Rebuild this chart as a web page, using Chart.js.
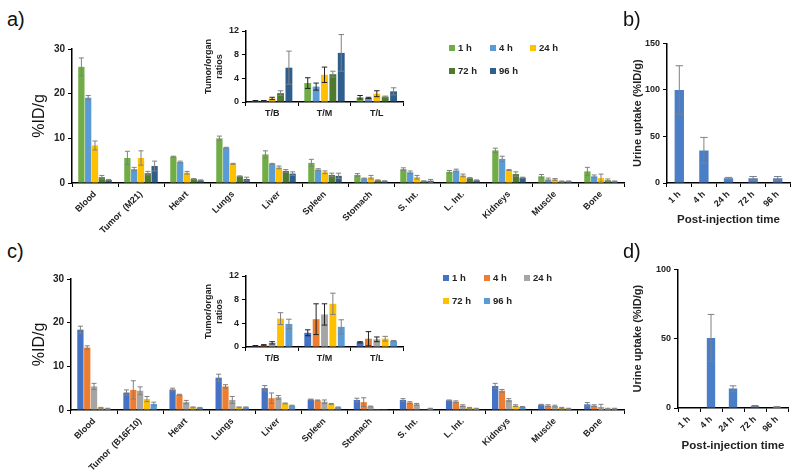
<!DOCTYPE html>
<html>
<head>
<meta charset="utf-8">
<script src="https://cdn.jsdelivr.net/npm/chart.js@4/dist/chart.umd.min.js"></script>
<style>
  body { margin:0; background:#fff; }
  #wrap { position:relative; width:800px; height:475px; overflow:hidden; font-family:"Liberation Sans", Arial, sans-serif; }
  canvas { position:absolute; }
  .lbl { position:absolute; font-size:20px; color:#111; }
  .leg { position:absolute; font-size:9.5px; font-weight:bold; color:#222; white-space:nowrap; line-height:10px; }
  .leg i { display:inline-block; width:6px; height:6px; margin-right:3px; vertical-align:0px; }
</style>
</head>
<body>
<div id="wrap">
  <canvas id="mainA" width="630" height="200" style="left:0;top:40px"></canvas>
  <canvas id="insetA" width="210" height="100" style="left:200px;top:20px"></canvas>
  <canvas id="urineB" width="175" height="200" style="left:620px;top:35px"></canvas>
  <canvas id="mainC" width="630" height="200" style="left:0;top:270px"></canvas>
  <canvas id="insetC" width="210" height="100" style="left:200px;top:265px"></canvas>
  <canvas id="urineD" width="175" height="200" style="left:620px;top:261px"></canvas>
  <div class="lbl" style="left:7px;top:8px">a)</div>
  <div class="lbl" style="left:623px;top:8px">b)</div>
  <div class="lbl" style="left:7px;top:240px">c)</div>
  <div class="lbl" style="left:623px;top:240px">d)</div>
</div>
<script>
// ---------------------------
// Data
// ---------------------------
var organsA = ["Blood", "Tumor  (M21)", "Heart", "Lungs", "Liver", "Spleen", "Stomach", "S. Int.", "L. Int.", "Kidneys", "Muscle", "Bone"];
var organsC = ["Blood", "Tumor  (B16F10)", "Heart", "Lungs", "Liver", "Spleen", "Stomach", "S. Int.", "L. Int.", "Kidneys", "Muscle", "Bone"];
var times = ["1 h", "4 h", "24 h", "72 h", "96 h"];
var ratioLabels = ["T/B", "T/M", "T/L"];

// panel a - biodistribution (M21)
var a1h  = [26.0, 5.6, 5.9, 10.0, 6.4, 4.5, 1.8, 3.1, 2.5, 7.3, 1.5, 2.6];
var a4h  = [19.1, 3.1, 4.7, 7.9, 4.3, 3.0, 1.0, 2.4, 2.8, 5.4, 0.8, 1.5];
var a24h = [8.4, 5.6, 2.3, 4.3, 3.5, 2.4, 1.3, 1.3, 1.7, 2.9, 0.8, 1.1];
var a72h = [1.3, 2.2, 0.9, 1.5, 2.7, 1.8, 0.6, 0.4, 1.1, 2.0, 0.35, 0.6];
var a96h = [0.7, 3.8, 0.6, 0.9, 2.1, 1.6, 0.4, 0.5, 0.6, 1.2, 0.35, 0.35];
var a1hErr  = [2.0, 1.5, 0.1, 0.5, 0.8, 0.8, 0.3, 0.3, 0.3, 0.5, 0.4, 0.9];
var a4hErr  = [0.5, 0.4, 0.2, 0.1, 0.1, 0.2, 0.1, 0.3, 0.3, 0.6, 0.3, 0.3];
var a24hErr = [1.0, 1.6, 0.3, 0.1, 0.3, 0.3, 0.4, 0.4, 0.3, 0.1, 0.2, 0.9];
var a72hErr = [0.4, 0.4, 0.1, 0.1, 0.3, 0.4, 0.1, 0.1, 0.1, 0.5, 0.1, 0.3];
var a96hErr = [0.1, 1.1, 0.1, 0.4, 0.4, 0.6, 0.1, 0.3, 0.1, 0.1, 0.1, 0.1];

// panel a inset - tumor/organ ratios
var aR1h  = [0.2, 3.2, 0.8];
var aR4h  = [0.2, 2.6, 0.7];
var aR24h = [0.6, 4.6, 1.4];
var aR72h = [1.5, 4.7, 0.9];
var aR96h = [5.8, 8.3, 1.8];
var aR1hErr  = [0.05, 0.9, 0.3];
var aR4hErr  = [0.05, 0.6, 0.1];
var aR24hErr = [0.2, 1.3, 0.5];
var aR72hErr = [0.4, 0.5, 0.1];
var aR96hErr = [2.8, 3.1, 0.6];

// panel b - urine
var urineB = [100, 35, 5, 5, 5];
var urineBErr = [26, 14, 1, 2, 2];

// panel c - biodistribution (B16F10)
var c1h  = [18.4, 4.0, 4.7, 7.4, 5.0, 2.4, 2.3, 2.3, 2.2, 5.5, 1.2, 1.3];
var c4h  = [14.3, 4.6, 3.5, 5.4, 2.7, 2.2, 1.8, 1.7, 1.9, 4.4, 1.0, 1.0];
var c24h = [5.4, 4.4, 1.8, 2.3, 2.9, 1.9, 0.8, 1.3, 1.0, 2.3, 0.9, 0.7];
var c72h = [0.5, 2.5, 0.6, 0.6, 1.5, 1.4, 0.05, 0.15, 0.5, 1.0, 0.5, 0.3];
var c96h = [0.3, 1.4, 0.5, 0.6, 1.0, 0.6, 0.05, 0.3, 0.3, 0.7, 0.3, 0.3];
var c1hErr  = [0.8, 0.6, 0.3, 0.8, 0.6, 0.1, 0.4, 0.3, 0.1, 0.6, 0.1, 0.4];
var c4hErr  = [0.4, 2.1, 0.1, 0.4, 1.2, 0.1, 1.0, 0.2, 0.2, 0.3, 0.2, 0.2];
var c24hErr = [0.7, 0.9, 0.4, 0.8, 0.4, 0.4, 0.1, 0.2, 0.2, 0.3, 0.2, 0.6];
var c72hErr = [0.1, 0.6, 0.1, 0.1, 0.1, 0.1, 0, 0, 0.1, 0.2, 0.1, 0.1];
var c96hErr = [0.1, 0.4, 0.1, 0.1, 0.1, 0.1, 0, 0.1, 0.1, 0.1, 0.1, 0.1];

// panel c inset
var cR1h  = [0.2, 2.4, 0.8];
var cR4h  = [0.3, 4.7, 1.4];
var cR24h = [0.7, 5.5, 1.3];
var cR72h = [4.8, 7.3, 1.4];
var cR96h = [3.9, 3.4, 1.0];
var cR1hErr  = [0.05, 0.5, 0.1];
var cR4hErr  = [0.1, 2.6, 1.2];
var cR24hErr = [0.2, 1.8, 0.4];
var cR72hErr = [1.0, 1.8, 0.4];
var cR96hErr = [0.8, 1.2, 0.1];

// panel d - urine
var urineD = [0, 50.5, 14, 1.5, 0.8];
var urineDErr = [0, 17, 2, 0.3, 0.2];

var colorsA = ["#70AD47", "#5B9BD5", "#FFC000", "#4E7A2F", "#2D5E8E"];
var colorsC = ["#4472C4", "#ED7D31", "#A5A5A5", "#FFC000", "#5B9BD5"];
var urineColor = "#4A7EC7";

var FONT = "'Liberation Sans', Arial, sans-serif";

// ---------------------------
// Error bar plugin
// ---------------------------
var errorBars = {
    id: "errorBars",
    afterDatasetsDraw: function(chart) {
        var ctx = chart.ctx;
        var yScale = chart.scales.y;
        chart.data.datasets.forEach(function(ds, i) {
            if (!ds.errors) return;
            var meta = chart.getDatasetMeta(i);
            meta.data.forEach(function(bar, j) {
                var v = ds.data[j], e = ds.errors[j];
                if (!e) return;
                var top = yScale.getPixelForValue(v + e);
                var bot = yScale.getPixelForValue(Math.max(v - e, 0));
                var cap = Math.max(bar.width * 0.4, 2);
                ctx.save();
                ctx.strokeStyle = ds.errorColor || "#808080";
                ctx.lineWidth = 1;
                ctx.beginPath();
                ctx.moveTo(bar.x, bot); ctx.lineTo(bar.x, top);
                ctx.moveTo(bar.x - cap, top); ctx.lineTo(bar.x + cap, top);
                ctx.moveTo(bar.x - cap, bot); ctx.lineTo(bar.x + cap, bot);
                ctx.stroke();
                ctx.restore();
            });
        });
    }
};

function makeSets(series, errs, colors, errColors, cp, bp) {
    var sets = [];
    for (var i = 0; i < series.length; i++) {
        sets.push({
            label: times[i],
            data: series[i],
            errors: errs[i],
            errorColor: errColors[i],
            backgroundColor: colors[i],
            categoryPercentage: cp,
            barPercentage: bp
        });
    }
    return sets;
}

function axisX(h, size, rot, title) {
    return {
        grid: { drawOnChartArea: false, color: "#000", tickLength: 4, offset: true },
        border: { color: "#000", width: 1.5 },
        ticks: { color: "#222", font: { family: FONT, size: size, weight: "bold" }, maxRotation: rot, minRotation: rot, autoSkip: false, padding: 2 },
        title: title || { display: false },
        afterFit: function(s) { s.height = h; }
    };
}

function axisY(w, max, step, size, title) {
    return {
        min: 0, max: max,
        grid: { drawOnChartArea: false, color: "#000", tickLength: 4 },
        border: { color: "#000", width: 1.5 },
        ticks: { stepSize: step, color: "#222", font: { family: FONT, size: size, weight: "bold" }, padding: 3 },
        title: title,
        afterFit: function(s) { s.width = w; }
    };
}

function barChart(id, labels, datasets, xAxis, yAxis, pad) {
    return new Chart(document.getElementById(id), {
        type: "bar",
        data: { labels: labels, datasets: datasets },
        options: {
            responsive: false,
            animation: false,
            layout: { padding: pad },
            plugins: { legend: { display: false }, tooltip: { enabled: false } },
            scales: { x: xAxis, y: yAxis }
        },
        plugins: [errorBars]
    });
}

var greyErr = ["#808080", "#808080", "#808080", "#808080", "#808080"];
var insetErr = ["#222", "#222", "#222", "#808080", "#808080"];

// ---------------------------
// Panel a
// ---------------------------
barChart("mainA", organsA,
    makeSets([a1h, a4h, a24h, a72h, a96h], [a1hErr, a4hErr, a24hErr, a72hErr, a96hErr], colorsA, greyErr, 0.74, 0.92),
    axisX(57, 9, 45),
    axisY(72, 30, 10, 10, { display: true, text: "%ID/g", color: "#111", font: { family: FONT, size: 16 }, padding: { top: 30, bottom: 0 } }),
    { top: 9, right: 6, left: 0, bottom: 0 });

barChart("insetA", ratioLabels,
    makeSets([aR1h, aR4h, aR24h, aR72h, aR96h], [aR1hErr, aR4hErr, aR24hErr, aR72hErr, aR96hErr], colorsA, insetErr, 0.8, 0.82),
    axisX(18, 9, 0),
    axisY(46, 12, 4, 9, { display: true, text: ["Tumor/organ", "ratios"], color: "#222", font: { family: FONT, size: 9, weight: "bold" }, padding: { top: 3, bottom: 0 } }),
    { top: 11, right: 7, left: 0, bottom: 0 });

// ---------------------------
// Panel b
// ---------------------------
barChart("urineB", times,
    [{ label: "Urine", data: urineB, errors: urineBErr, errorColor: "#808080", backgroundColor: urineColor, categoryPercentage: 1, barPercentage: 0.38 }],
    axisX(52, 9, 45, { display: true, text: "Post-injection time", color: "#222", font: { family: FONT, size: 11.5, weight: "bold" }, padding: { top: 0, bottom: 8 } }),
    axisY(47, 150, 50, 9, { display: true, text: "Urine uptake (%ID/g)", color: "#222", font: { family: FONT, size: 11, weight: "bold" }, padding: { top: 11, bottom: 0 } }),
    { top: 8, right: 5, left: 0, bottom: 0 });

// ---------------------------
// Panel c
// ---------------------------
barChart("mainC", organsC,
    makeSets([c1h, c4h, c24h, c72h, c96h], [c1hErr, c4hErr, c24hErr, c72hErr, c96hErr], colorsC, greyErr, 0.74, 0.92),
    axisX(60, 9, 45),
    axisY(71, 30, 10, 10, { display: true, text: "%ID/g", color: "#111", font: { family: FONT, size: 16 }, padding: { top: 30, bottom: 0 } }),
    { top: 9, right: 6, left: 0, bottom: 0 });

barChart("insetC", ratioLabels,
    makeSets([cR1h, cR4h, cR24h, cR72h, cR96h], [cR1hErr, cR4hErr, cR24hErr, cR72hErr, cR96hErr], colorsC, insetErr, 0.8, 0.82),
    axisX(18, 9, 0),
    axisY(46, 12, 4, 9, { display: true, text: ["Tumor/organ", "ratios"], color: "#222", font: { family: FONT, size: 9, weight: "bold" }, padding: { top: 3, bottom: 0 } }),
    { top: 11, right: 7, left: 0, bottom: 0 });

// ---------------------------
// Panel d
// ---------------------------
barChart("urineD", times,
    [{ label: "Urine", data: urineD, errors: urineDErr, errorColor: "#808080", backgroundColor: urineColor, categoryPercentage: 1, barPercentage: 0.38 }],
    axisX(53, 9, 45, { display: true, text: "Post-injection time", color: "#222", font: { family: FONT, size: 11.5, weight: "bold" }, padding: { top: 0, bottom: 8 } }),
    axisY(58, 100, 50, 9, { display: true, text: "Urine uptake (%ID/g)", color: "#222", font: { family: FONT, size: 11, weight: "bold" }, padding: { top: 11, bottom: 0 } }),
    { top: 8, right: 7, left: 0, bottom: 0 });

// ---------------------------
// Legends (HTML)
// ---------------------------
function legend(colors, x0, y0) {
    var wrap = document.getElementById("wrap");
    var xs = [0, 41, 81, 0, 41];
    for (var i = 0; i < times.length; i++) {
        var d = document.createElement("div");
        d.className = "leg";
        d.style.left = (x0 + xs[i]) + "px";
        d.style.top = (y0 + (i < 3 ? 0 : 23)) + "px";
        d.innerHTML = '<i style="background:' + colors[i] + '"></i>' + times[i];
        wrap.appendChild(d);
    }
}
legend(colorsA, 449, 43);
legend(colorsC, 443, 273);
</script>
</body>
</html>
